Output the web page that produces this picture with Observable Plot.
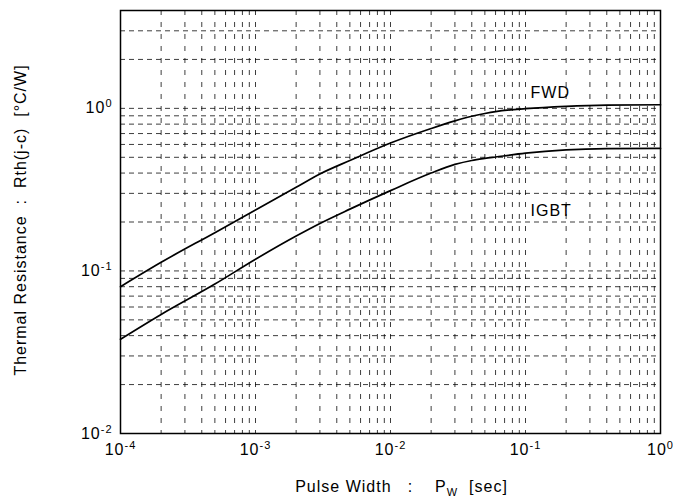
<!DOCTYPE html>
<html><head><meta charset="utf-8">
<script src="https://cdn.jsdelivr.net/npm/d3@7"></script>
<script src="https://cdn.jsdelivr.net/npm/@observablehq/plot@0.6"></script>
<style>
html,body{margin:0;padding:0;background:#fff;}
svg text{white-space:pre;letter-spacing:1px;}
svg text.xtitle{letter-spacing:1.3px;}
</style>
</head><body><div id="chart"></div>
<script>
// Pulse width [sec]
const pulseWidth = [1e-4, 2e-4, 5e-4, 1e-3, 2e-3, 3e-3, 5e-3, 1e-2, 2e-2, 3e-2, 4e-2, 5e-2, 6e-2, 0.1, 0.2, 0.4, 1];
// Thermal resistance Rth(j-c) [°C/W]
const fwd  = [0.080, 0.113, 0.172, 0.237, 0.327, 0.395, 0.478, 0.612, 0.752, 0.838, 0.895, 0.930, 0.955, 0.996, 1.030, 1.048, 1.053];
const igbt = [0.038, 0.054, 0.083, 0.118, 0.164, 0.196, 0.240, 0.312, 0.400, 0.452, 0.478, 0.492, 0.502, 0.530, 0.555, 0.565, 0.567];
const seriesNames = ["FWD", "IGBT"];
const labelX = [0.109, 0.109];
const labelY = [1.24, 0.235];

const xTicks = [1e-4, 1e-3, 1e-2, 1e-1, 1];
const yTicks = [0.01, 0.1, 1];
const xDecades = [1e-4, 1e-3, 1e-2, 1e-1];
const yDecades = [0.01, 0.1, 1];
const multipliers = [1, 2, 3, 4, 5, 6, 7, 8, 9];
const xGrid = xDecades.flatMap(d => multipliers.map(m => m * d)).concat([1]);
const yGrid = yDecades.flatMap(d => multipliers.map(m => m * d)).filter(v => v < 4);

const xTitle = "Pulse Width   :    P_{W}  [sec]";
const yTitle = "Thermal Resistance  :  Rth(j-c)  [°C/W]";

const rows = pulseWidth.flatMap((t, i) => [
  {t, r: fwd[i], s: "FWD"},
  {t, r: igbt[i], s: "IGBT"}
]);
const labels = seriesNames.map((n, i) => ({n, x: labelX[i], y: labelY[i]}));
const expFmt = d => "10^{" + Math.round(Math.log10(d)) + "}";

const chart = Plot.plot({
  width: 673, height: 504,
  marginLeft: 120, marginRight: 13, marginTop: 10, marginBottom: 71,
  style: {fontFamily: "'Liberation Sans', Arial, sans-serif", fontSize: "16px", color: "#000", background: "#fff"},
  x: {type: "log", domain: [1e-4, 1]},
  y: {type: "log", domain: [0.01, 4]},
  marks: [
    Plot.gridX(xGrid, {stroke: "#000", strokeOpacity: 0.85, strokeWidth: 0.9, strokeDasharray: "5,7"}),
    Plot.gridY(yGrid, {stroke: "#000", strokeOpacity: 0.85, strokeWidth: 0.9, strokeDasharray: "5,4"}),
    Plot.frame({stroke: "#000", strokeWidth: 1.5}),
    Plot.line(rows, {x: "t", y: "r", z: "s", stroke: "#000", strokeWidth: 1.7, curve: "monotone-x"}),
    Plot.axisX(xTicks, {tickSize: 0, tickPadding: 10, tickFormat: expFmt, fontSize: 16, label: null}),
    Plot.axisY(yTicks, {tickSize: 0, tickPadding: 8, tickFormat: expFmt, fontSize: 16, label: null}),
    Plot.text(labels, {x: "x", y: "y", text: "n", textAnchor: "start", fontSize: 16}),
    Plot.text([xTitle], {text: d => d, frameAnchor: "bottom", textAnchor: "middle", dy: 58, dx: 11, fontSize: 16, className: "xtitle"}),
    Plot.text([yTitle], {text: d => d, frameAnchor: "left", textAnchor: "middle", rotate: -90, dx: -100, dy: -2, fontSize: 16})
  ]
});

// render ^{..} superscripts and _{..} subscripts as tspans
chart.querySelectorAll("text").forEach(el => {
  const s = el.textContent;
  if (!/[\^_]\{/.test(s)) return;
  while (el.firstChild) el.removeChild(el.firstChild);
  const re = /([\^_])\{([^}]*)\}/g;
  let last = 0, m;
  const ns = "http://www.w3.org/2000/svg";
  let pending = 0;
  const add = (txt, attrs) => {
    const t = document.createElementNS(ns, "tspan");
    for (const k in attrs) t.setAttribute(k, attrs[k]);
    t.textContent = txt;
    el.appendChild(t);
  };
  while ((m = re.exec(s))) {
    if (m.index > last) add(s.slice(last, m.index), pending ? {dy: pending} : {});
    pending = 0;
    const sup = m[1] === "^";
    const shift = sup ? -6 : 4;
    add(m[2], {dy: shift, "font-size": 11});
    pending = -shift;
    last = re.lastIndex;
  }
  if (last < s.length) add(s.slice(last), pending ? {dy: pending} : {});
});

document.getElementById("chart").appendChild(chart);
</script>
</body></html>
